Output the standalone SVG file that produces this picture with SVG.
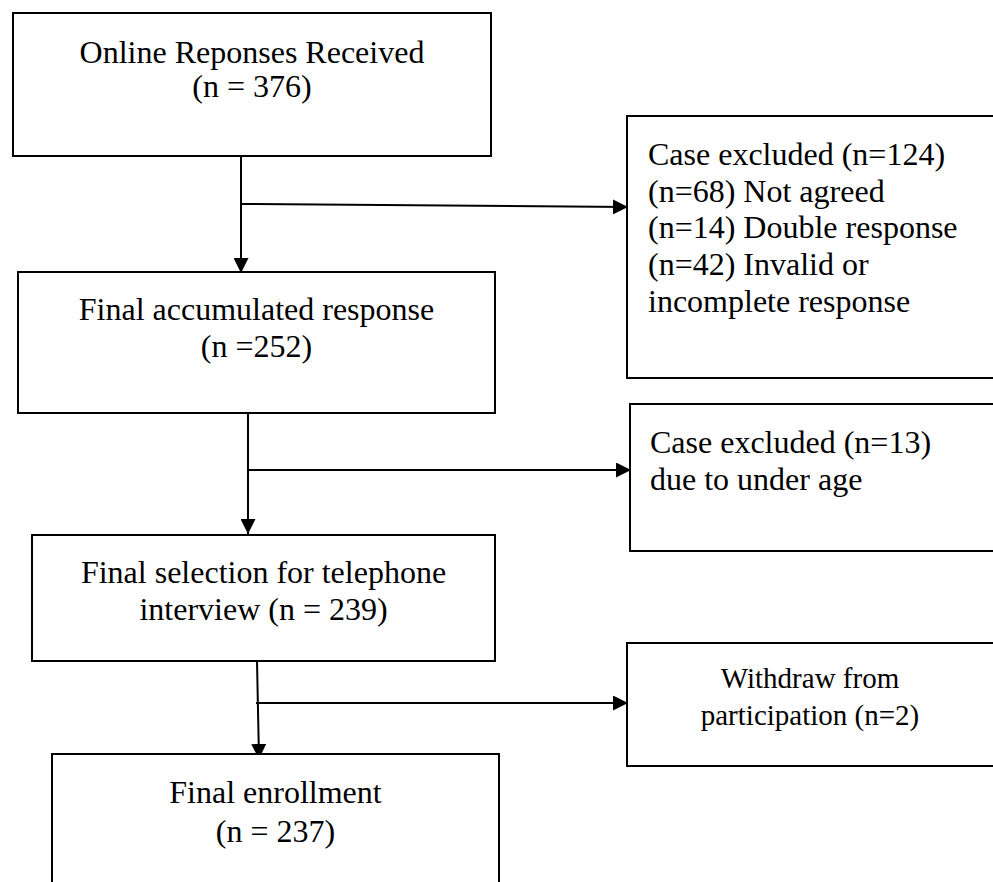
<svg xmlns="http://www.w3.org/2000/svg" width="993" height="882" viewBox="0 0 993 882">
<defs>
<style>
.box{fill:#fff;stroke:#000;stroke-width:2}
.t{font-family:"Liberation Serif","Times New Roman",serif;font-size:32px;fill:#000}
.c{text-anchor:middle}
.s{font-size:29px}
.ln{fill:none;stroke:#000;stroke-width:2}
</style>
<marker id="ah" markerUnits="userSpaceOnUse" markerWidth="15" markerHeight="15" refX="15" refY="7.5" orient="auto">
<path d="M0,0 L15,7.5 L0,15 z" fill="#000"/>
</marker>
</defs>
<rect width="993" height="882" fill="#fff"/>
<g id="connectors">
<line class="ln" x1="241" y1="156" x2="241" y2="273" marker-end="url(#ah)"/>
<line class="ln" x1="240" y1="204" x2="628" y2="207" marker-end="url(#ah)"/>
<line class="ln" x1="248" y1="413" x2="248" y2="534" marker-end="url(#ah)"/>
<line class="ln" x1="248" y1="470" x2="631" y2="470" marker-end="url(#ah)"/>
<line class="ln" x1="257" y1="661" x2="259" y2="759" stroke-width="1.2" marker-end="url(#ah)"/>
<line class="ln" x1="256" y1="703" x2="628" y2="703" marker-end="url(#ah)"/>
</g>
<g id="n1">
<rect class="box" x="13" y="13" width="478" height="143"/>
<text class="t c" x="252" y="63">Online Reponses Received</text>
<text class="t c" x="252" y="97">(n = 376)</text>
</g>
<g id="n2">
<rect class="box" x="627" y="116" width="380" height="262"/>
<text class="t" x="648" y="165">Case excluded (n=124)</text>
<text class="t" x="648" y="202">(n=68) Not agreed</text>
<text class="t" x="648" y="238">(n=14) Double response</text>
<text class="t" x="648" y="275">(n=42) Invalid or</text>
<text class="t" x="648" y="312">incomplete response</text>
</g>
<g id="n3">
<rect class="box" x="18" y="272" width="477" height="141"/>
<text class="t c" x="256.5" y="320">Final accumulated response</text>
<text class="t c" x="256.5" y="357">(n =252)</text>
</g>
<g id="n4">
<rect class="box" x="630" y="404" width="377" height="147"/>
<text class="t" x="650" y="453">Case excluded (n=13)</text>
<text class="t" x="650" y="490">due to under age</text>
</g>
<g id="n5">
<rect class="box" x="32" y="535" width="463" height="126"/>
<text class="t c" x="263.5" y="583">Final selection for telephone</text>
<text class="t c" x="263.5" y="620">interview (n = 239)</text>
</g>
<g id="n6">
<rect class="box" x="627" y="643" width="380" height="123"/>
<text class="t c s" x="810" y="688">Withdraw from</text>
<text class="t c s" x="810" y="725">participation (n=2)</text>
</g>
<g id="n7">
<rect class="box" x="52" y="754" width="447" height="140"/>
<text class="t c" x="275.5" y="803">Final enrollment</text>
<text class="t c" x="275.5" y="842">(n = 237)</text>
</g>
</svg>
